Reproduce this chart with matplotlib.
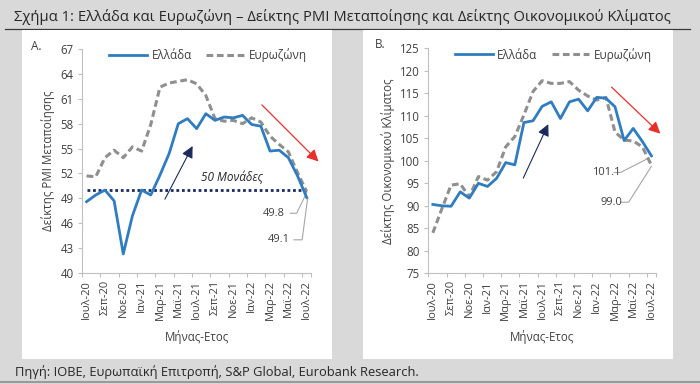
import matplotlib
matplotlib.use("Agg")
import matplotlib.pyplot as plt
from matplotlib.patches import Rectangle
from matplotlib.lines import Line2D

plt.rcParams['font.family'] = ['Open Sans', 'Noto Sans', 'DejaVu Sans']

months = ['Ιουλ-20', 'Αυγ-20', 'Σεπ-20', 'Οκτ-20', 'Νοε-20', 'Δεκ-20',
          'Ιαν-21', 'Φεβ-21', 'Μαρ-21', 'Απρ-21', 'Μαϊ-21', 'Ιουν-21',
          'Ιουλ-21', 'Αυγ-21', 'Σεπ-21', 'Οκτ-21', 'Νοε-21', 'Δεκ-21',
          'Ιαν-22', 'Φεβ-22', 'Μαρ-22', 'Απρ-22', 'Μαϊ-22', 'Ιουν-22', 'Ιουλ-22']

pmi_greece = [48.6, 49.4, 50.0, 48.7, 42.3, 46.9, 50.0, 49.4, 51.8, 54.4, 58.0, 58.6,
              57.4, 59.2, 58.4, 58.8, 58.7, 59.0, 57.9, 57.7, 54.7, 54.8, 53.9, 51.7, 49.1]
pmi_ez = [51.7, 51.6, 53.9, 54.8, 53.9, 55.2, 54.7, 57.9, 62.4, 62.9, 63.1, 63.3,
          62.8, 61.4, 58.6, 58.3, 58.4, 58.0, 58.7, 58.2, 56.5, 55.5, 54.6, 52.1, 49.8]

esi_greece = [90.3, 90.0, 89.9, 93.1, 91.7, 95.0, 94.3, 96.1, 99.6, 99.1, 108.5, 108.9,
              112.1, 113.1, 109.4, 113.1, 113.7, 111.1, 114.1, 113.9, 112.0, 104.5, 107.2, 104.3, 101.1]
esi_ez = [84.0, 89.4, 94.6, 94.9, 92.0, 96.5, 95.7, 97.6, 103.1, 105.4, 110.2, 115.4,
          117.8, 117.2, 117.2, 117.6, 115.7, 114.4, 113.5, 114.1, 106.4, 104.6, 104.4, 103.1, 99.0]

W, H = 700, 384
fig = plt.figure(figsize=(7, 3.84), dpi=100)
fig.patch.set_facecolor('#d9d9d9')

def fx(px):
    return px / W

def fy(py):
    return 1 - py / H

# title underline
fig.add_artist(Line2D([fx(5), fx(690)], [fy(29), fy(29)], color='#3a3a3a', lw=0.9, zorder=0))
# white panels
fig.add_artist(Rectangle((fx(22), fy(359)), fx(332 - 22), (359 - 30) / H, facecolor='white',
                         edgecolor='none', zorder=1))
fig.add_artist(Rectangle((fx(363), fy(359)), fx(673 - 363), (359 - 30) / H, facecolor='white',
                         edgecolor='none', zorder=1))
# bottom line
fig.add_artist(Line2D([0, 1], [fy(382), fy(382)], color='#9a9a9a', lw=1.5, zorder=0))

fig.text(fx(14), fy(17), 'Σχήμα 1: Ελλάδα και Ευρωζώνη – Δείκτης PMI Μεταποίησης και Δείκτης Οικονομικού Κλίματος',
         fontsize=10.6, color='#262626', va='center', ha='left', zorder=3)
fig.text(fx(15), fy(372), 'Πηγή: ΙΟΒΕ, Ευρωπαϊκή Επιτροπή, S&P Global, Eurobank Research.',
         fontsize=9.3, color='#262626', va='center', ha='left', zorder=3)

BLUE = '#2f7dc0'
GREY = '#8f8f8f'
NAVY = '#1b2a5e'
RED = '#e8302a'
TXT = '#404040'
LEAD = '#a6a6a6'

def setup(ax, ylim, step, ylabel):
    x = list(range(len(months)))
    ax.set_xlim(-0.5, len(months) - 0.5)
    ax.set_ylim(*ylim)
    ax.set_yticks(list(range(ylim[0], ylim[1] + 1, step)))
    ax.set_facecolor('none')
    for s in ['top', 'right']:
        ax.spines[s].set_visible(False)
    for s in ['left', 'bottom']:
        ax.spines[s].set_color('#bfbfbf')
        ax.spines[s].set_linewidth(0.8)
    ax.set_xticks([i - 0.5 for i in range(0, len(months), 2)] + [len(months) - 0.5])
    ax.set_xticklabels([])
    ax.set_xticks(list(range(0, len(months), 2)), minor=True)
    ax.set_xticklabels([months[i] for i in range(0, len(months), 2)], minor=True,
                       rotation=90, fontsize=8, color=TXT)
    ax.tick_params(axis='x', which='major', length=3, color='#bfbfbf', direction='out')
    ax.tick_params(axis='x', which='minor', length=0, pad=5)
    ax.tick_params(axis='y', length=3, color='#bfbfbf', labelsize=8.3, labelcolor=TXT, pad=3)
    ax.set_ylabel(ylabel, fontsize=8.3, color=TXT, labelpad=4)
    ax.set_xlabel('Μήνας-Ετος', fontsize=8.3, color=TXT, labelpad=7)
    return x

# Panel A
axA = fig.add_axes([fx(82), fy(273), fx(311.3 - 82), (273 - 49) / H], zorder=2)
x = setup(axA, (40, 67), 3, 'Δείκτης PMI Μεταποίησης')
axA.plot(x, [50] * len(x), color=NAVY, lw=2.0, ls=(0, (1, 1.0)), zorder=3)
axA.plot(x, pmi_ez, color=GREY, lw=2.2, ls=(0, (2.2, 1.2)), label='Ευρωζώνη', zorder=4)
axA.plot(x, pmi_greece, color=BLUE, lw=2.0, label='Ελλάδα', zorder=5)
axA.text(15.8, 51.5, '50 Μονάδες', fontsize=8.5, style='italic', color='#262626', ha='center', va='center')
axA.annotate('', xy=(11.7, 55.6), xytext=(8.4, 48.6),
             arrowprops=dict(arrowstyle='-|>,head_width=0.35,head_length=0.7', color=NAVY, lw=0.8))
axA.annotate('', xy=(25.5, 53.2), xytext=(18.9, 60.5), annotation_clip=False,
             arrowprops=dict(arrowstyle='-|>,head_width=0.35,head_length=0.7', color=RED, lw=0.9))
axA.text(20.4, 47.2, '49.8', fontsize=8, color=TXT, ha='center', va='center')
axA.plot([22.2, 22.9, 24.0], [47.2, 47.2, 49.7], color=LEAD, lw=0.8, clip_on=False)
axA.text(21.0, 44.0, '49.1', fontsize=8, color=TXT, ha='center', va='center')
axA.plot([22.6, 23.5, 24.1], [44.0, 44.0, 49.0], color=LEAD, lw=0.8, clip_on=False)
axA.legend(loc='upper center', bbox_to_anchor=(0.55, 1.05), ncol=2, frameon=False, fontsize=8.5,
           handlelength=3.2, handletextpad=0.4, columnspacing=1.2, labelcolor=TXT,
           handles=[axA.lines[2], axA.lines[1]])
fig.text(fx(36), fy(46), 'A.', fontsize=8.5, color=TXT, ha='center', va='center', zorder=3)

# Panel B
axB = fig.add_axes([fx(428.3), fy(273.3), fx(656 - 428.3), (273.3 - 48.3) / H], zorder=2)
x = setup(axB, (75, 125), 5, 'Δείκτης Οικονομικού Κλίματος')
axB.plot(x, esi_ez, color=GREY, lw=2.2, ls=(0, (2.2, 1.2)), label='Ευρωζώνη', zorder=4)
axB.plot(x, esi_greece, color=BLUE, lw=2.0, label='Ελλάδα', zorder=5)
axB.annotate('', xy=(12.8, 108.7), xytext=(9.8, 95.6),
             arrowprops=dict(arrowstyle='-|>,head_width=0.35,head_length=0.7', color=NAVY, lw=0.8))
axB.annotate('', xy=(25.2, 105.6), xytext=(19.4, 116.8), annotation_clip=False,
             arrowprops=dict(arrowstyle='-|>,head_width=0.35,head_length=0.7', color=RED, lw=0.9))
axB.text(19.0, 97.4, '101.1', fontsize=8, color=TXT, ha='center', va='center')
axB.plot([19.9, 20.6, 23.7], [97.4, 97.4, 100.6], color=LEAD, lw=0.8, clip_on=False)
axB.text(19.6, 90.8, '99.0', fontsize=8, color=TXT, ha='center', va='center')
axB.plot([20.7, 21.5, 24.0], [90.8, 90.8, 98.8], color=LEAD, lw=0.8, clip_on=False)
axB.legend(loc='upper center', bbox_to_anchor=(0.55, 1.05), ncol=2, frameon=False, fontsize=8.5,
           handlelength=3.2, handletextpad=0.4, columnspacing=1.2, labelcolor=TXT,
           handles=[axB.lines[1], axB.lines[0]])
fig.text(fx(380), fy(45), 'B.', fontsize=8.5, color=TXT, ha='center', va='center', zorder=3)

fig.savefig('out.png', dpi=100, facecolor=fig.get_facecolor())
